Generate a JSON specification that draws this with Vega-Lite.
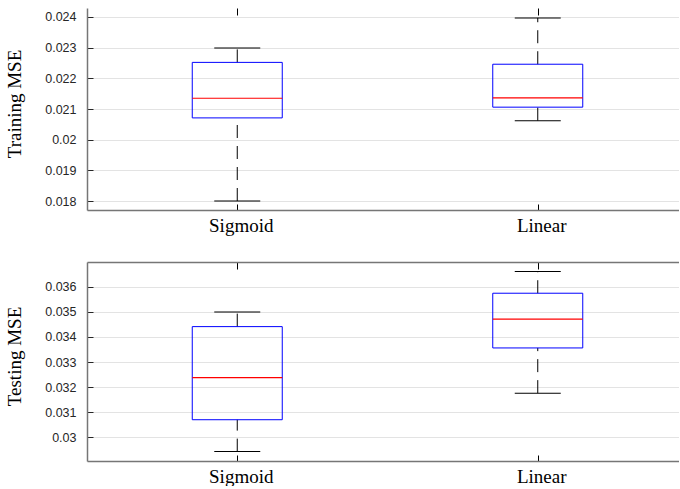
{
  "$schema": "https://vega.github.io/schema/vega-lite/v6.json",
  "padding": {"left": 5, "top": 7, "right": -1, "bottom": 0},
  "background": "white",
  "bounds": "flush",
  "spacing": 52,
  "datasets": {
    "stats": [
      {"set": "Training", "model": "Sigmoid", "min": 0.01800, "q1": 0.02071, "median": 0.02135, "q3": 0.02252, "max": 0.02299},
      {"set": "Training", "model": "Linear", "min": 0.02062, "q1": 0.02106, "median": 0.02136, "q3": 0.02246, "max": 0.02397},
      {"set": "Testing", "model": "Sigmoid", "min": 0.02943, "q1": 0.03070, "median": 0.03238, "q3": 0.03441, "max": 0.03499},
      {"set": "Testing", "model": "Linear", "min": 0.03176, "q1": 0.03356, "median": 0.03471, "q3": 0.03574, "max": 0.03661}
    ]
  },
  "config": {
    "view": {"stroke": null},
    "axis": {
      "domainColor": "#767676",
      "domainWidth": 1.5,
      "tickColor": "#262626",
      "tickWidth": 1,
      "labelColor": "#262626",
      "titleColor": "#000000",
      "gridColor": "#e3e3e3",
      "gridWidth": 1
    }
  },
  "vconcat": [
    {
      "width": 593,
      "height": 202,
      "data": {"name": "stats"},
      "transform": [{"filter": "datum.set === 'Training'"}],
      "layer": [
        {
          "layer": [
            {
              "mark": {"type": "rule", "color": "#000000", "strokeWidth": 1, "strokeDash": [13, 8]},
              "encoding": {
                "x": {"field": "model", "type": "nominal", "sort": ["Sigmoid", "Linear"], "scale": {"type": "point", "padding": 0.4867, "align": 0.5137}, "axis": {"orient": "bottom", "title": null, "grid": false, "labelAngle": 0, "labelFont": "Liberation Serif", "labelFontSize": 19, "labelColor": "#000000", "labelPadding": 12, "labelOffset": 3.5, "tickSize": -6, "tickColor": "#000000"}},
                "y": {"field": "q3", "type": "quantitative", "scale": {"domain": [0.017707, 0.024293], "nice": false, "zero": false}, "axis": {"title": "Training MSE", "values": [0.018, 0.019, 0.020, 0.021, 0.022, 0.023, 0.024], "format": ".3~f", "grid": true, "tickSize": -6, "labelPadding": 17, "labelFont": "Liberation Sans", "labelFontSize": 12.5, "titleFont": "Liberation Serif", "titleFontSize": 19, "titleFontWeight": "normal", "titleX": -66.5, "titleY": 95.5, "titleAngle": 270, "titleBaseline": "alphabetic", "titleAlign": "center"}},
                "y2": {"field": "max"}
              }
            },
            {
              "mark": {"type": "rule", "color": "#000000", "strokeWidth": 1, "strokeDash": [13, 8]},
              "encoding": {
                "x": {"field": "model", "type": "nominal", "sort": ["Sigmoid", "Linear"], "scale": {"type": "point", "padding": 0.4867, "align": 0.5137}, "axis": {"orient": "bottom", "title": null, "grid": false, "labelAngle": 0, "labelFont": "Liberation Serif", "labelFontSize": 19, "labelColor": "#000000", "labelPadding": 12, "labelOffset": 3.5, "tickSize": -6, "tickColor": "#000000"}},
                "y": {"field": "min", "type": "quantitative", "scale": {"domain": [0.017707, 0.024293], "nice": false, "zero": false}, "axis": {"title": "Training MSE", "values": [0.018, 0.019, 0.020, 0.021, 0.022, 0.023, 0.024], "format": ".3~f", "grid": true, "tickSize": -6, "labelPadding": 17, "labelFont": "Liberation Sans", "labelFontSize": 12.5, "titleFont": "Liberation Serif", "titleFontSize": 19, "titleFontWeight": "normal", "titleX": -66.5, "titleY": 95.5, "titleAngle": 270, "titleBaseline": "alphabetic", "titleAlign": "center"}},
                "y2": {"field": "q1"}
              }
            },
            {
              "mark": {"type": "tick", "color": "#000000", "size": 46, "thickness": 1, "opacity": 1},
              "encoding": {
                "x": {"field": "model", "type": "nominal", "sort": ["Sigmoid", "Linear"], "scale": {"type": "point", "padding": 0.4867, "align": 0.5137}, "axis": {"orient": "bottom", "title": null, "grid": false, "labelAngle": 0, "labelFont": "Liberation Serif", "labelFontSize": 19, "labelColor": "#000000", "labelPadding": 12, "labelOffset": 3.5, "tickSize": -6, "tickColor": "#000000"}},
                "y": {"field": "max", "type": "quantitative", "scale": {"domain": [0.017707, 0.024293], "nice": false, "zero": false}, "axis": {"title": "Training MSE", "values": [0.018, 0.019, 0.020, 0.021, 0.022, 0.023, 0.024], "format": ".3~f", "grid": true, "tickSize": -6, "labelPadding": 17, "labelFont": "Liberation Sans", "labelFontSize": 12.5, "titleFont": "Liberation Serif", "titleFontSize": 19, "titleFontWeight": "normal", "titleX": -66.5, "titleY": 95.5, "titleAngle": 270, "titleBaseline": "alphabetic", "titleAlign": "center"}}
              }
            },
            {
              "mark": {"type": "tick", "color": "#000000", "size": 46, "thickness": 1, "opacity": 1},
              "encoding": {
                "x": {"field": "model", "type": "nominal", "sort": ["Sigmoid", "Linear"], "scale": {"type": "point", "padding": 0.4867, "align": 0.5137}, "axis": {"orient": "bottom", "title": null, "grid": false, "labelAngle": 0, "labelFont": "Liberation Serif", "labelFontSize": 19, "labelColor": "#000000", "labelPadding": 12, "labelOffset": 3.5, "tickSize": -6, "tickColor": "#000000"}},
                "y": {"field": "min", "type": "quantitative", "scale": {"domain": [0.017707, 0.024293], "nice": false, "zero": false}, "axis": {"title": "Training MSE", "values": [0.018, 0.019, 0.020, 0.021, 0.022, 0.023, 0.024], "format": ".3~f", "grid": true, "tickSize": -6, "labelPadding": 17, "labelFont": "Liberation Sans", "labelFontSize": 12.5, "titleFont": "Liberation Serif", "titleFontSize": 19, "titleFontWeight": "normal", "titleX": -66.5, "titleY": 95.5, "titleAngle": 270, "titleBaseline": "alphabetic", "titleAlign": "center"}}
              }
            },
            {
              "mark": {"type": "bar", "size": 90, "fill": "transparent", "stroke": "#0000ff", "strokeWidth": 1},
              "encoding": {
                "x": {"field": "model", "type": "nominal", "sort": ["Sigmoid", "Linear"], "scale": {"type": "point", "padding": 0.4867, "align": 0.5137}, "axis": {"orient": "bottom", "title": null, "grid": false, "labelAngle": 0, "labelFont": "Liberation Serif", "labelFontSize": 19, "labelColor": "#000000", "labelPadding": 12, "labelOffset": 3.5, "tickSize": -6, "tickColor": "#000000"}},
                "y": {"field": "q1", "type": "quantitative", "scale": {"domain": [0.017707, 0.024293], "nice": false, "zero": false}, "axis": {"title": "Training MSE", "values": [0.018, 0.019, 0.020, 0.021, 0.022, 0.023, 0.024], "format": ".3~f", "grid": true, "tickSize": -6, "labelPadding": 17, "labelFont": "Liberation Sans", "labelFontSize": 12.5, "titleFont": "Liberation Serif", "titleFontSize": 19, "titleFontWeight": "normal", "titleX": -66.5, "titleY": 95.5, "titleAngle": 270, "titleBaseline": "alphabetic", "titleAlign": "center"}},
                "y2": {"field": "q3"}
              }
            }
          ]
        },
        {
          "mark": {"type": "tick", "color": "#ff0000", "size": 90, "thickness": 1.2, "opacity": 1},
          "encoding": {
            "x": {"field": "model", "type": "nominal", "sort": ["Sigmoid", "Linear"], "scale": {"type": "point", "padding": 0.4867, "align": 0.5137}, "axis": {"orient": "top", "title": null, "labels": false, "grid": false, "domain": false, "tickSize": -7, "tickColor": "#000000"}},
            "y": {"field": "median", "type": "quantitative", "scale": {"domain": [0.017707, 0.024293], "nice": false, "zero": false}, "axis": {"title": "Training MSE", "values": [0.018, 0.019, 0.020, 0.021, 0.022, 0.023, 0.024], "format": ".3~f", "grid": true, "tickSize": -6, "labelPadding": 17, "labelFont": "Liberation Sans", "labelFontSize": 12.5, "titleFont": "Liberation Serif", "titleFontSize": 19, "titleFontWeight": "normal", "titleX": -66.5, "titleY": 95.5, "titleAngle": 270, "titleBaseline": "alphabetic", "titleAlign": "center"}}
          }
        }
      ],
      "resolve": {"axis": {"x": "independent"}}
    },
    {
      "width": 593,
      "height": 199,
      "data": {"name": "stats"},
      "transform": [{"filter": "datum.set === 'Testing'"}],
      "layer": [
        {
          "layer": [
            {
              "mark": {"type": "rule", "color": "#000000", "strokeWidth": 1, "strokeDash": [13, 8]},
              "encoding": {
                "x": {"field": "model", "type": "nominal", "sort": ["Sigmoid", "Linear"], "scale": {"type": "point", "padding": 0.4867, "align": 0.5137}, "axis": {"orient": "bottom", "title": null, "grid": false, "labelAngle": 0, "labelFont": "Liberation Serif", "labelFontSize": 19, "labelColor": "#000000", "labelPadding": 12, "labelOffset": 3.5, "tickSize": -6, "tickColor": "#000000"}},
                "y": {"field": "q3", "type": "quantitative", "scale": {"domain": [0.029056, 0.036984], "nice": false, "zero": false}, "axis": {"title": "Testing MSE", "values": [0.030, 0.031, 0.032, 0.033, 0.034, 0.035, 0.036], "format": ".3~f", "grid": true, "tickSize": -6, "labelPadding": 17, "labelFont": "Liberation Sans", "labelFontSize": 12.5, "titleFont": "Liberation Serif", "titleFontSize": 19, "titleFontWeight": "normal", "titleX": -66.5, "titleY": 94, "titleAngle": 270, "titleBaseline": "alphabetic", "titleAlign": "center"}},
                "y2": {"field": "max"}
              }
            },
            {
              "mark": {"type": "rule", "color": "#000000", "strokeWidth": 1, "strokeDash": [13, 8]},
              "encoding": {
                "x": {"field": "model", "type": "nominal", "sort": ["Sigmoid", "Linear"], "scale": {"type": "point", "padding": 0.4867, "align": 0.5137}, "axis": {"orient": "bottom", "title": null, "grid": false, "labelAngle": 0, "labelFont": "Liberation Serif", "labelFontSize": 19, "labelColor": "#000000", "labelPadding": 12, "labelOffset": 3.5, "tickSize": -6, "tickColor": "#000000"}},
                "y": {"field": "min", "type": "quantitative", "scale": {"domain": [0.029056, 0.036984], "nice": false, "zero": false}, "axis": {"title": "Testing MSE", "values": [0.030, 0.031, 0.032, 0.033, 0.034, 0.035, 0.036], "format": ".3~f", "grid": true, "tickSize": -6, "labelPadding": 17, "labelFont": "Liberation Sans", "labelFontSize": 12.5, "titleFont": "Liberation Serif", "titleFontSize": 19, "titleFontWeight": "normal", "titleX": -66.5, "titleY": 94, "titleAngle": 270, "titleBaseline": "alphabetic", "titleAlign": "center"}},
                "y2": {"field": "q1"}
              }
            },
            {
              "mark": {"type": "tick", "color": "#000000", "size": 46, "thickness": 1, "opacity": 1},
              "encoding": {
                "x": {"field": "model", "type": "nominal", "sort": ["Sigmoid", "Linear"], "scale": {"type": "point", "padding": 0.4867, "align": 0.5137}, "axis": {"orient": "bottom", "title": null, "grid": false, "labelAngle": 0, "labelFont": "Liberation Serif", "labelFontSize": 19, "labelColor": "#000000", "labelPadding": 12, "labelOffset": 3.5, "tickSize": -6, "tickColor": "#000000"}},
                "y": {"field": "max", "type": "quantitative", "scale": {"domain": [0.029056, 0.036984], "nice": false, "zero": false}, "axis": {"title": "Testing MSE", "values": [0.030, 0.031, 0.032, 0.033, 0.034, 0.035, 0.036], "format": ".3~f", "grid": true, "tickSize": -6, "labelPadding": 17, "labelFont": "Liberation Sans", "labelFontSize": 12.5, "titleFont": "Liberation Serif", "titleFontSize": 19, "titleFontWeight": "normal", "titleX": -66.5, "titleY": 94, "titleAngle": 270, "titleBaseline": "alphabetic", "titleAlign": "center"}}
              }
            },
            {
              "mark": {"type": "tick", "color": "#000000", "size": 46, "thickness": 1, "opacity": 1},
              "encoding": {
                "x": {"field": "model", "type": "nominal", "sort": ["Sigmoid", "Linear"], "scale": {"type": "point", "padding": 0.4867, "align": 0.5137}, "axis": {"orient": "bottom", "title": null, "grid": false, "labelAngle": 0, "labelFont": "Liberation Serif", "labelFontSize": 19, "labelColor": "#000000", "labelPadding": 12, "labelOffset": 3.5, "tickSize": -6, "tickColor": "#000000"}},
                "y": {"field": "min", "type": "quantitative", "scale": {"domain": [0.029056, 0.036984], "nice": false, "zero": false}, "axis": {"title": "Testing MSE", "values": [0.030, 0.031, 0.032, 0.033, 0.034, 0.035, 0.036], "format": ".3~f", "grid": true, "tickSize": -6, "labelPadding": 17, "labelFont": "Liberation Sans", "labelFontSize": 12.5, "titleFont": "Liberation Serif", "titleFontSize": 19, "titleFontWeight": "normal", "titleX": -66.5, "titleY": 94, "titleAngle": 270, "titleBaseline": "alphabetic", "titleAlign": "center"}}
              }
            },
            {
              "mark": {"type": "bar", "size": 90, "fill": "transparent", "stroke": "#0000ff", "strokeWidth": 1},
              "encoding": {
                "x": {"field": "model", "type": "nominal", "sort": ["Sigmoid", "Linear"], "scale": {"type": "point", "padding": 0.4867, "align": 0.5137}, "axis": {"orient": "bottom", "title": null, "grid": false, "labelAngle": 0, "labelFont": "Liberation Serif", "labelFontSize": 19, "labelColor": "#000000", "labelPadding": 12, "labelOffset": 3.5, "tickSize": -6, "tickColor": "#000000"}},
                "y": {"field": "q1", "type": "quantitative", "scale": {"domain": [0.029056, 0.036984], "nice": false, "zero": false}, "axis": {"title": "Testing MSE", "values": [0.030, 0.031, 0.032, 0.033, 0.034, 0.035, 0.036], "format": ".3~f", "grid": true, "tickSize": -6, "labelPadding": 17, "labelFont": "Liberation Sans", "labelFontSize": 12.5, "titleFont": "Liberation Serif", "titleFontSize": 19, "titleFontWeight": "normal", "titleX": -66.5, "titleY": 94, "titleAngle": 270, "titleBaseline": "alphabetic", "titleAlign": "center"}},
                "y2": {"field": "q3"}
              }
            }
          ]
        },
        {
          "mark": {"type": "tick", "color": "#ff0000", "size": 90, "thickness": 1.2, "opacity": 1},
          "encoding": {
            "x": {"field": "model", "type": "nominal", "sort": ["Sigmoid", "Linear"], "scale": {"type": "point", "padding": 0.4867, "align": 0.5137}, "axis": {"orient": "top", "title": null, "labels": false, "grid": false, "domain": true, "tickSize": -7, "tickColor": "#000000"}},
            "y": {"field": "median", "type": "quantitative", "scale": {"domain": [0.029056, 0.036984], "nice": false, "zero": false}, "axis": {"title": "Testing MSE", "values": [0.030, 0.031, 0.032, 0.033, 0.034, 0.035, 0.036], "format": ".3~f", "grid": true, "tickSize": -6, "labelPadding": 17, "labelFont": "Liberation Sans", "labelFontSize": 12.5, "titleFont": "Liberation Serif", "titleFontSize": 19, "titleFontWeight": "normal", "titleX": -66.5, "titleY": 94, "titleAngle": 270, "titleBaseline": "alphabetic", "titleAlign": "center"}}
          }
        }
      ],
      "resolve": {"axis": {"x": "independent"}}
    }
  ]
}
